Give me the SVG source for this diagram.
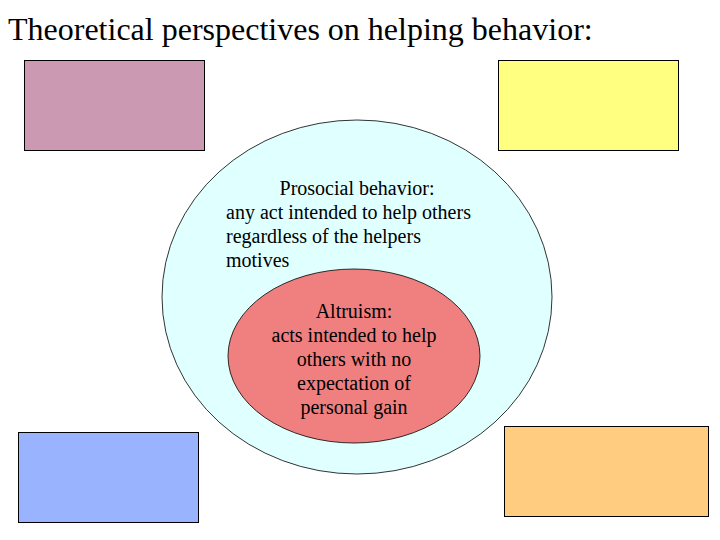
<svg xmlns="http://www.w3.org/2000/svg" width="720" height="540" viewBox="0 0 720 540">
<style>
.box{stroke:#000;stroke-width:1}
text{font-family:'Liberation Serif','Times New Roman','DejaVu Serif',serif;fill:#000}
.b{font-size:20px}
</style>
<rect width="720" height="540" fill="#fff"/>
<text x="8" y="40" font-size="32">Theoretical perspectives on helping behavior:</text>
<g id="box-pink"><rect class="box" x="24.5" y="60.5" width="180" height="90" fill="#cc99b3"/></g>
<g id="box-yellow"><rect class="box" x="498.5" y="60.5" width="180" height="90" fill="#ffff80"/></g>
<g id="box-blue"><rect class="box" x="18.5" y="432.5" width="180" height="90" fill="#99b3ff"/></g>
<g id="box-orange"><rect class="box" x="504.5" y="426.5" width="204" height="90" fill="#ffcc80"/></g>
<g id="prosocial">
<ellipse cx="357" cy="297" rx="195" ry="177" fill="#e0ffff" stroke="#000" stroke-width="0.8"/>
<text class="b" x="357" y="195" text-anchor="middle">Prosocial behavior:</text>
<text class="b" x="226" y="219">any act intended to help others</text>
<text class="b" x="226" y="243">regardless of the helpers</text>
<text class="b" x="226" y="267">motives</text>
</g>
<g id="altruism">
<ellipse cx="354" cy="356" rx="126" ry="87" fill="#f08080" stroke="#000" stroke-width="0.8"/>
<text class="b" x="354" y="318" text-anchor="middle">Altruism:</text>
<text class="b" x="354" y="342" text-anchor="middle">acts intended to help</text>
<text class="b" x="354" y="366" text-anchor="middle">others with no</text>
<text class="b" x="354" y="390" text-anchor="middle">expectation of</text>
<text class="b" x="354" y="414" text-anchor="middle">personal gain</text>
</g>
<g id="connectors"></g>
</svg>
